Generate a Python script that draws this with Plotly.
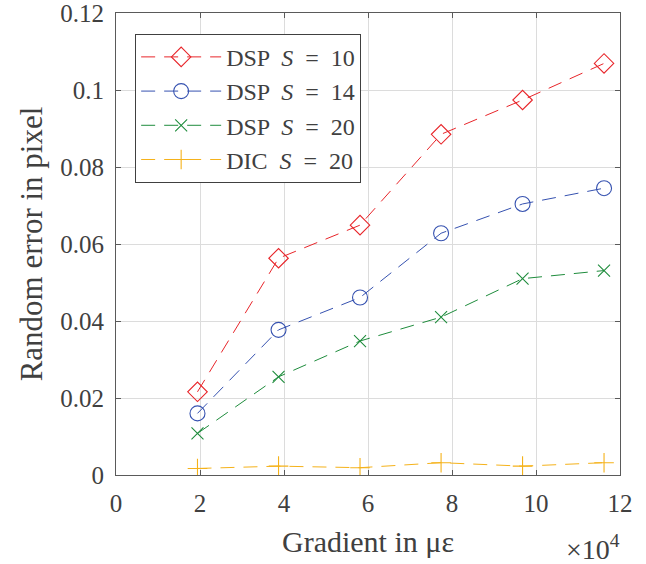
import plotly.graph_objects as go

# Strain gradient (in units of 1e4 micro-strain)
gradient = [1.94, 3.87, 5.81, 7.74, 9.68, 11.62]

# Random error in pixel for each method / subset size
dsp_s10 = [0.0216, 0.0563, 0.0649, 0.0885, 0.0974, 0.1069]
dsp_s14 = [0.0160, 0.0377, 0.0461, 0.0628, 0.0704, 0.0745]
dsp_s20 = [0.0108, 0.0255, 0.0348, 0.0410, 0.0510, 0.0531]
dic_s20 = [0.0017, 0.0023, 0.0019, 0.0032, 0.0023, 0.0032]

series_names = [
    "DSP  <i>S</i>  =  10",
    "DSP  <i>S</i>  =  14",
    "DSP  <i>S</i>  =  20",
    "DIC  <i>S</i>  =  20",
]
series_values = [dsp_s10, dsp_s14, dsp_s20, dic_s20]
colors = ["#e8252a", "#3652b0", "#1e8c3c", "#f5b21a"]
symbols = ["diamond-open", "circle-open", "x-thin-open", "cross-thin-open"]
sizes = [15, 15, 12, 14]

x_ticks = [0, 2, 4, 6, 8, 10, 12]
y_ticks = [0, 0.02, 0.04, 0.06, 0.08, 0.1, 0.12]
y_tick_text = ["0", "0.02", "0.04", "0.06", "0.08", "0.1", "0.12"]

FONT = "Liberation Serif"
TXT = "#404040"

fig = go.Figure()
for name, vals, col, sym, sz in zip(series_names, series_values, colors, symbols, sizes):
    fig.add_trace(go.Scatter(
        x=gradient, y=vals, name=name, mode="lines+markers",
        line=dict(color=col, width=1, dash="14px,9px"),
        marker=dict(symbol=sym, size=sz, color=col, line=dict(color=col, width=1.1)),
    ))

axis_common = dict(
    showline=True, linecolor="#5a5a5a", linewidth=1.2, mirror="ticks",
    ticks="inside", ticklen=5, tickcolor="#5a5a5a", tickwidth=1,
    showgrid=True, gridcolor="#dcdcdc", gridwidth=1, zeroline=False,
    tickfont=dict(family=FONT, size=25, color=TXT),
    ticklabeloverflow="allow",
    automargin=False,
)

fig.update_xaxes(
    range=[0, 12], tickvals=x_ticks, ticktext=[str(v) for v in x_ticks],
    ticklabelstandoff=6,
    title=dict(text="Gradient in \u03bc\u03b5", font=dict(family=FONT, size=30, color=TXT), standoff=14),
    **axis_common,
)
fig.update_yaxes(
    range=[0, 0.12], tickvals=y_ticks, ticktext=y_tick_text,
    ticklabelstandoff=6,
    title=dict(text="Random error in pixel", font=dict(family=FONT, size=31, color=TXT), standoff=8),
    **axis_common,
)

fig.add_annotation(
    text="\u00d710<sup>4</sup>", xref="paper", yref="paper", x=1.004, y=-0.158,
    xanchor="right", yanchor="middle", showarrow=False,
    font=dict(family=FONT, size=28, color=TXT),
)

fig.update_layout(
    width=646, height=564,
    margin=dict(l=116, r=26, t=13, b=89),
    paper_bgcolor="white", plot_bgcolor="white",
    showlegend=True,
    legend=dict(
        x=0.038, y=0.955, xanchor="left", yanchor="top",
        bgcolor="white", bordercolor="#404040", borderwidth=1,
        font=dict(family=FONT, size=24, color=TXT),
        itemwidth=80, tracegroupgap=0,
    ),
)

fig.write_html("out.html")
